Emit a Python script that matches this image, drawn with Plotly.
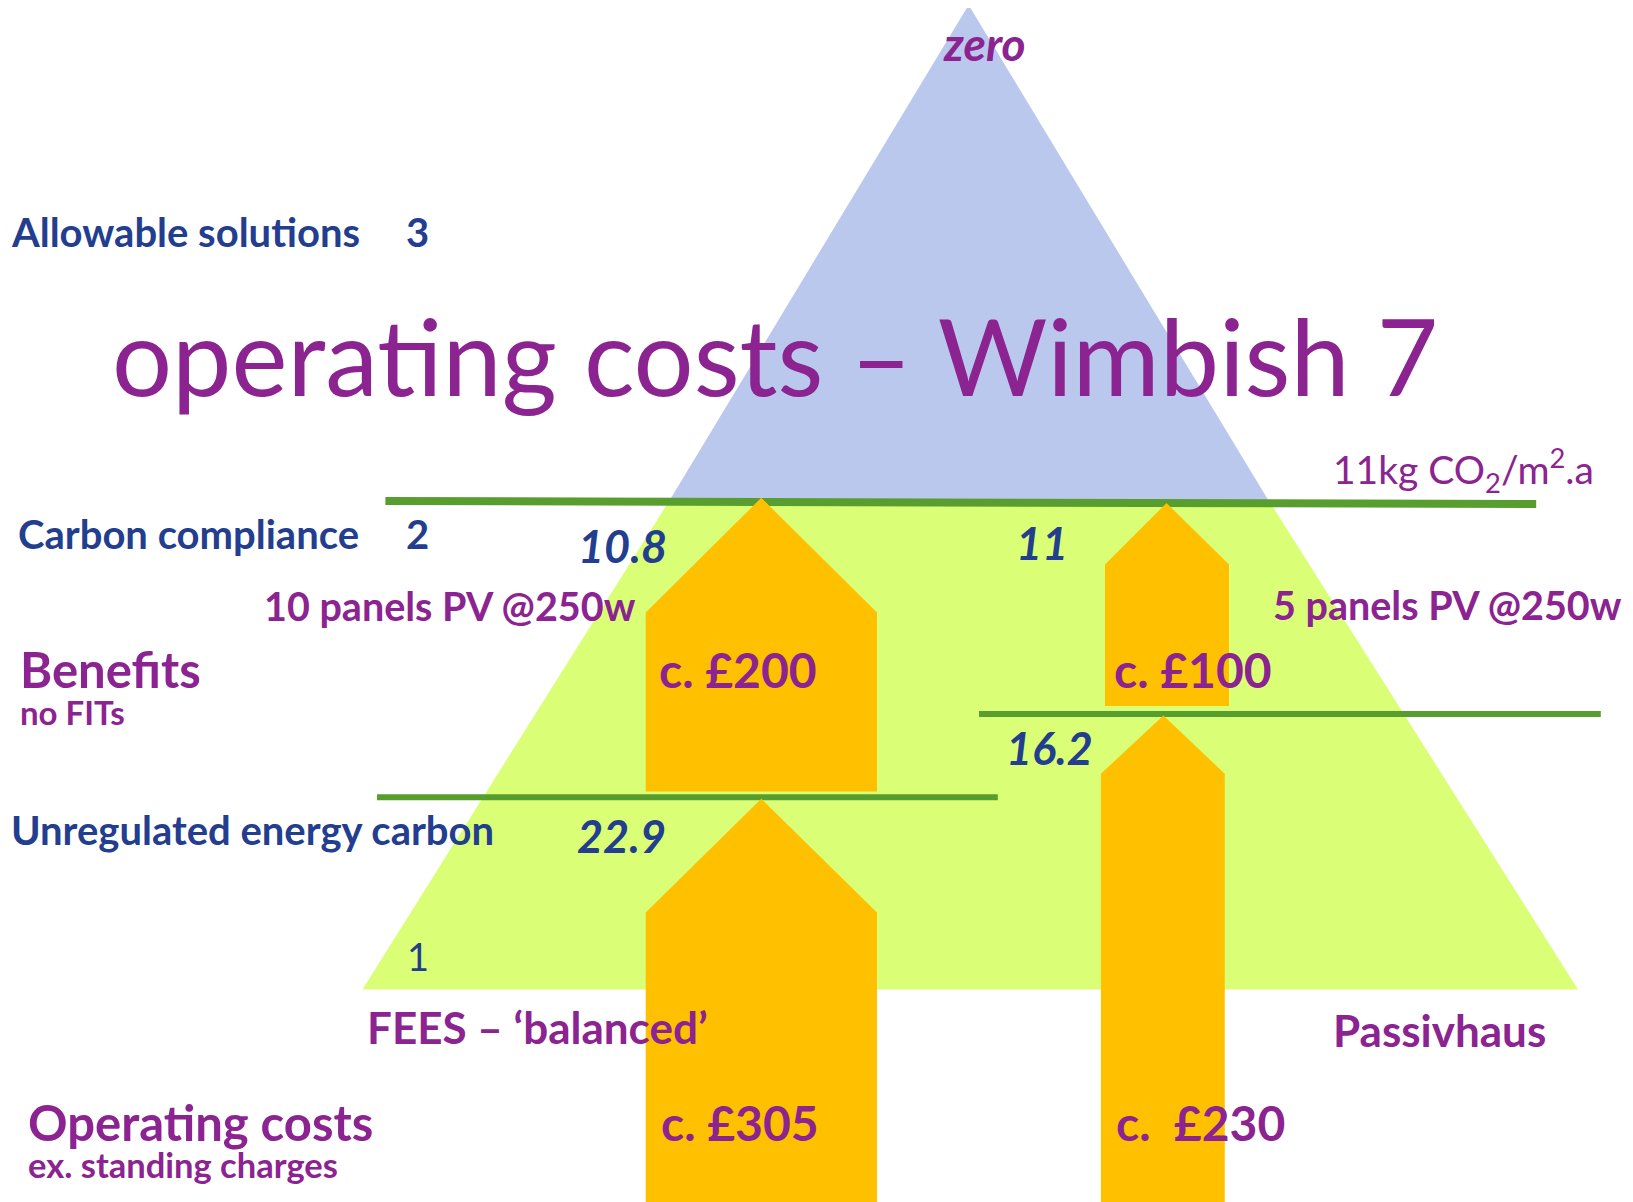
import plotly.graph_objects as go

W, H = 1633, 1202
BODY = 8  # default page margin around the plot div

PURPLE = "#8B2390"
NAVY = "#233E8E"
BLUE_FILL = "#B9C8EC"
GREEN_FILL = "#DAFF77"
ORANGE = "#FFC000"
LINE_GREEN = "#589E2E"
FONT = "Lato"

# pyramid pieces (pixel space, y down)
top_x = [968.6, 1270.0, 668.0]
top_y = [5.0, 503.0, 503.0]
band_x = [669.7, 1268.5, 1578.0, 362.4]
band_y = [500.0, 500.0, 989.4, 989.4]

# arrows: apex, shoulders, base
arrow_x = {
    "fees_pv":   [761.3, 877.0, 877.0, 645.7, 645.7],
    "fees_base": [761.3, 877.0, 877.0, 645.7, 645.7],
    "ph_pv":     [1166.5, 1229.0, 1229.0, 1105.0, 1105.0],
    "ph_base":   [1163.4, 1224.8, 1224.8, 1100.9, 1100.9],
}
arrow_y = {
    "fees_pv":   [497.8, 612.4, 791.5, 791.5, 612.4],
    "fees_base": [798.8, 912.4, 1205.0, 1205.0, 912.4],
    "ph_pv":     [503.0, 564.5, 706.0, 706.0, 564.5],
    "ph_base":   [715.5, 773.8, 1205.0, 1205.0, 773.8],
}

# green level lines
level_x = [[385.4, 1536.2], [979.0, 1600.8], [377.0, 997.8]]
level_y = [[501.0, 504.0], [714.0, 714.0], [797.3, 797.3]]
level_w = [8, 6, 6]

# carbon values at each arrow tip
carbon_vals = ["10.8", "11", "16.2", "22.9"]
carbon_x = [622.8, 1041.5, 1049.8, 621.8]
carbon_y = [545.7, 542.6, 747.8, 836.3]

cost_labels = ["c. £200", "c. £100", "c. £305", "c.  £230"]
cost_x = [656.5, 1111.5, 658.5, 1113.5]
cost_y = [669.7, 669.7, 1122.7, 1122.7]

fig = go.Figure()

fig.add_trace(go.Scatter(x=top_x, y=top_y, fill="toself", fillcolor=BLUE_FILL,
                         mode="none", hoverinfo="skip"))
fig.add_trace(go.Scatter(x=band_x, y=band_y, fill="toself", fillcolor=GREEN_FILL,
                         mode="none", hoverinfo="skip"))

for xs, ys, w in zip(level_x, level_y, level_w):
    fig.add_trace(go.Scatter(x=xs, y=ys, mode="lines",
                             line=dict(color=LINE_GREEN, width=w), hoverinfo="skip"))

for k in arrow_x:
    fig.add_trace(go.Scatter(x=arrow_x[k], y=arrow_y[k], fill="toself",
                             fillcolor=ORANGE, mode="none", hoverinfo="skip"))


def label(text, x, y, size, color, anchor="left", bold=True, italic=False):
    fig.add_annotation(
        x=x, y=y, xref="x", yref="y", text=text, showarrow=False,
        xanchor=anchor, yanchor="middle",
        font=dict(family=FONT, size=size, color=color,
                  weight="bold" if bold else "normal",
                  style="italic" if italic else "normal"),
    )


label("zero", 984, 43, 46, PURPLE, "center", italic=True)
label("Allowable solutions", 9, 232, 40, NAVY)
label("3", 417.6, 232, 40, NAVY, "center")
label("operating costs – Wimbish 7", 109.5, 355, 106, PURPLE, bold=False)
label("11kg CO<sub>2</sub>/m<sup>2</sup>.a", 1596, 470, 39, PURPLE, "right", bold=False)
label("Carbon compliance", 15.7, 534, 40, NAVY)
label("2", 417.6, 534, 40, NAVY, "center")
label("10 panels PV @250w", 261.5, 605, 39.5, PURPLE)
label("5 panels PV @250w", 1270.8, 604, 39.5, PURPLE)
label("Benefits", 17.8, 668.5, 49, PURPLE)
label("no FITs", 17.8, 712, 33, PURPLE)
label("Unregulated energy carbon", 9, 830, 40, NAVY)
label("1", 417.6, 956, 38, NAVY, "center", bold=False)
label("FEES – ‘balanced’", 364.6, 1027, 44, PURPLE)
label("Passivhaus", 1331, 1030, 44, PURPLE)
label("Operating costs", 26.2, 1121.5, 49, PURPLE)
label("ex. standing charges", 26.2, 1164, 34.5, PURPLE)

for t, x, y in zip(carbon_vals, carbon_x, carbon_y):
    label(t, x, y, 45, NAVY, "center", italic=True)
for t, x, y in zip(cost_labels, cost_x, cost_y):
    label(t, x, y, 48, PURPLE)

# plot div sits BODY px inside the page, so shift the ranges to keep page pixels
fig.update_xaxes(range=[BODY, W], visible=False, fixedrange=True)
fig.update_yaxes(range=[H, BODY], visible=False, fixedrange=True)
fig.update_layout(
    width=W - BODY, height=H - BODY, margin=dict(l=0, r=0, t=0, b=0),
    plot_bgcolor="white", paper_bgcolor="white", showlegend=False,
)

fig.write_html("out.html")
